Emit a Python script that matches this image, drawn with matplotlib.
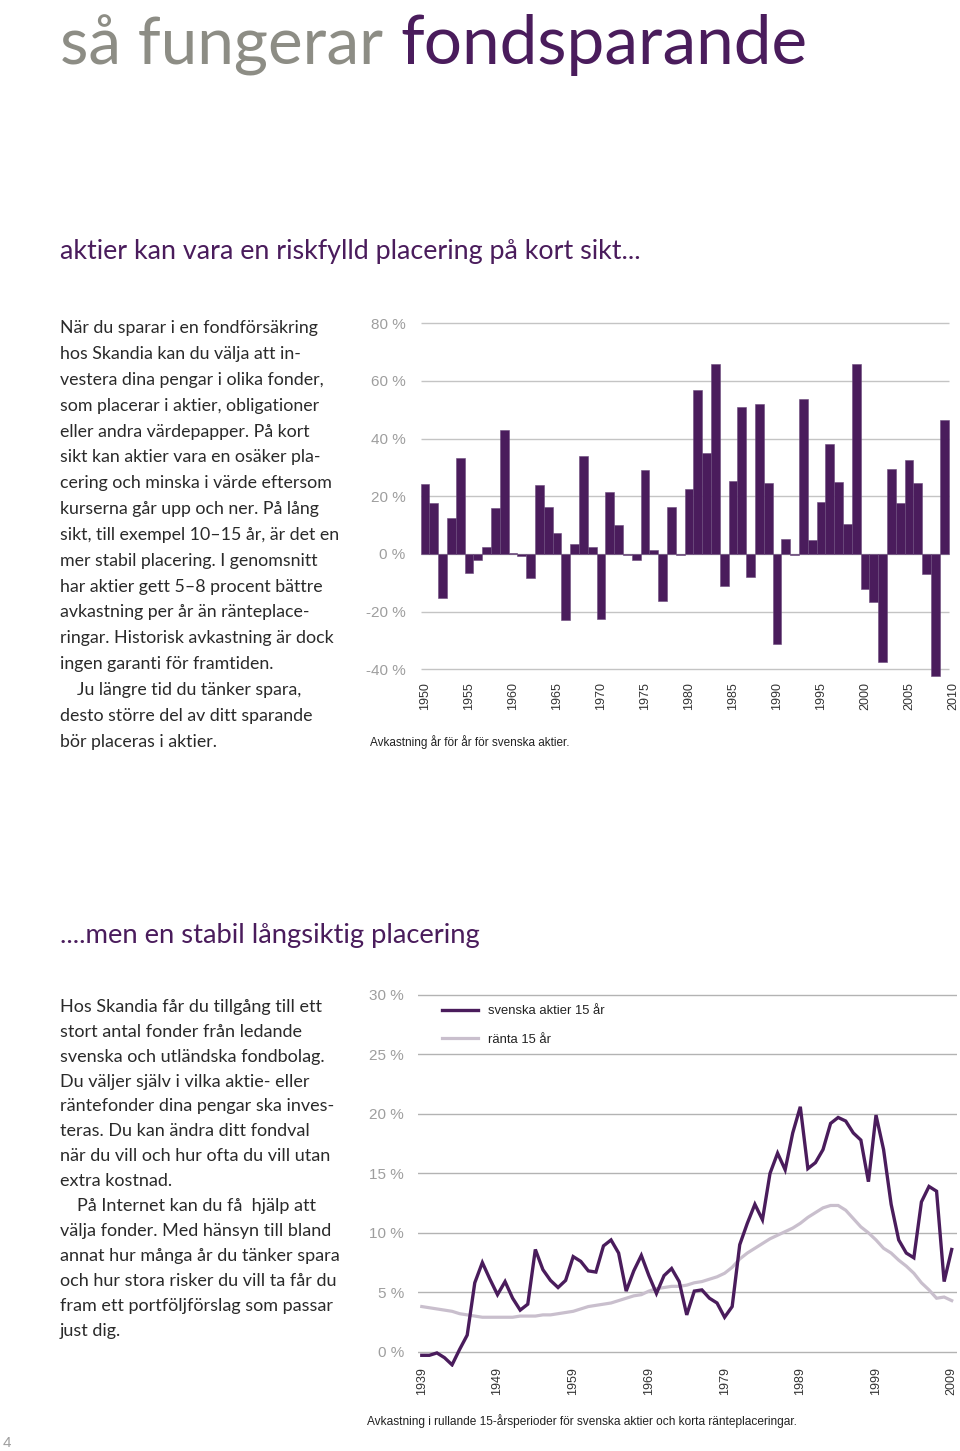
import matplotlib
matplotlib.use("Agg")
import matplotlib.pyplot as plt
from matplotlib import font_manager

# ---------------- data ----------------
bar_years = list(range(1950, 2010))
bar_returns = [24.2, 17.6, -15.4, 12.5, 33.1, -6.5, -2.0, 2.3, 15.8, 42.9,
               0.5, -0.6, -8.3, 23.8, 16.2, 7.4, -22.9, 3.6, 34.1, 2.4,
               -22.5, 21.4, 10.2, -0.2, -2.0, 29.0, 1.3, -16.3, 16.2, -0.3,
               22.5, 56.9, 34.9, 65.8, -11.1, 25.4, 51.1, -7.9, 51.9, 24.5,
               -31.1, 5.3, -0.5, 53.6, 4.7, 17.9, 38.0, 24.9, 10.5, 66.0,
               -12.3, -16.8, -37.3, 29.6, 17.5, 32.6, 24.5, -6.9, -42.2, 46.5]
bar_yticks = [-40, -20, 0, 20, 40, 60, 80]
bar_xticks = [1950, 1955, 1960, 1965, 1970, 1975, 1980, 1985, 1990, 1995, 2000, 2005, 2010]

line_years = list(range(1939, 2010))
aktier_15 = [-0.3, -0.3, -0.1, -0.5, -1.1, 0.2, 1.4, 5.8, 7.5, 6.1,
             4.8, 5.9, 4.5, 3.5, 4.0, 8.6, 6.9, 6.0, 5.4, 6.0,
             8.0, 7.6, 6.8, 6.7, 8.9, 9.4, 8.3, 5.1, 6.8, 8.1,
             6.4, 4.9, 6.4, 7.0, 5.9, 3.1, 5.1, 5.2, 4.5, 4.1,
             2.9, 3.8, 9.0, 10.8, 12.4, 11.1, 15.0, 16.7, 15.3, 18.4,
             20.6, 15.4, 15.9, 17.0, 19.2, 19.7, 19.4, 18.4, 17.8, 14.3,
             19.9, 17.0, 12.4, 9.4, 8.3, 7.9, 12.6, 13.9, 13.5, 5.9,
             8.6]
ranta_15 = [3.8, 3.7, 3.6, 3.5, 3.4, 3.2, 3.1, 3.0, 2.9, 2.9,
            2.9, 2.9, 2.9, 3.0, 3.0, 3.0, 3.1, 3.1, 3.2, 3.3,
            3.4, 3.6, 3.8, 3.9, 4.0, 4.1, 4.3, 4.5, 4.7, 4.8,
            5.1, 5.3, 5.4, 5.5, 5.5, 5.6, 5.8, 5.9, 6.1, 6.3,
            6.6, 7.1, 7.8, 8.3, 8.7, 9.1, 9.5, 9.8, 10.1, 10.4,
            10.8, 11.3, 11.7, 12.1, 12.3, 12.3, 11.9, 11.2, 10.5, 10.0,
            9.4, 8.7, 8.3, 7.7, 7.2, 6.6, 5.8, 5.2, 4.5, 4.6,
            4.3]
line_yticks = [0, 5, 10, 15, 20, 25, 30]
line_xticks = [1939, 1949, 1959, 1969, 1979, 1989, 1999, 2009]
legend_labels = ["svenska aktier 15 år", "ränta 15 år"]

title_grey = "så fungerar"
title_purple = "fondsparande"
heading1 = "aktier kan vara en riskfylld placering på kort sikt..."
heading2 = "....men en stabil långsiktig placering"
body1 = ["När du sparar i en fondförsäkring",
         "hos Skandia kan du välja att in-",
         "vestera dina pengar i olika fonder,",
         "som placerar i aktier, obligationer",
         "eller andra värdepapper. På kort",
         "sikt kan aktier vara en osäker pla-",
         "cering och minska i värde eftersom",
         "kurserna går upp och ner. På lång",
         "sikt, till exempel 10–15 år, är det en",
         "mer stabil placering. I genomsnitt",
         "har aktier gett 5–8 procent bättre",
         "avkastning per år än ränteplace-",
         "ringar. Historisk avkastning är dock",
         "ingen garanti för framtiden.",
         "Ju längre tid du tänker spara,",
         "desto större del av ditt sparande",
         "bör placeras i aktier."]
body1_indent = [14]
body2 = ["Hos Skandia får du tillgång till ett",
         "stort antal fonder från ledande",
         "svenska och utländska fondbolag.",
         "Du väljer själv i vilka aktie- eller",
         "räntefonder dina pengar ska inves-",
         "teras. Du kan ändra ditt fondval",
         "när du vill och hur ofta du vill utan",
         "extra kostnad.",
         "På Internet kan du få  hjälp att",
         "välja fonder. Med hänsyn till bland",
         "annat hur många år du tänker spara",
         "och hur stora risker du vill ta får du",
         "fram ett portföljförslag som passar",
         "just dig."]
body2_indent = [8]
caption1 = "Avkastning år för år för svenska aktier."
caption2 = "Avkastning i rullande 15-årsperioder för svenska aktier och korta ränteplaceringar."
page_no = "4"

# ---------------- style ----------------
PURPLE = "#4a1c5c"
LIGHT = "#c9bfcd"
TGREY = "#8d8d85"
AXGREY = "#9e9e9e"
GRID = "#c4c4c4"
TEXT = "#2a2a2a"


def pick(names):
    for n in names:
        try:
            font_manager.findfont(font_manager.FontProperties(family=n), fallback_to_default=False)
            return n
        except Exception:
            continue
    return "DejaVu Sans"


HEAD_FONT = pick(["Liberation Sans Narrow", "Lato", "Open Sans"])
BODY_FONT = pick(["Lato", "Open Sans", "Noto Sans"])
CHART_FONT = pick(["Liberation Sans", "DejaVu Sans"])

W, H = 960, 1451
fig = plt.figure(figsize=(W / 100, H / 100), dpi=100)
fig.patch.set_facecolor("white")
renderer = fig.canvas.get_renderer()


def fx(x):
    return x / W


def fy(y):
    return 1 - y / H


def fit_text(x, y, s, target_w, family, color, size0=20, **kw):
    t = fig.text(fx(x), fy(y), s, family=family, color=color, fontsize=size0,
                 va="baseline", ha="left", **kw)
    w = t.get_window_extent(renderer).width
    t.set_fontsize(size0 * target_w / w)
    return t


def width_of(t):
    return t.get_window_extent(renderer).width

# ---------------- titles ----------------
fit_text(60, 64, title_grey, 323, HEAD_FONT, TGREY, size0=50)
fit_text(400, 64, title_purple, 407, HEAD_FONT, PURPLE, size0=50)
fit_text(60, 259, heading1, 583, HEAD_FONT, PURPLE, size0=20)
fit_text(60, 943, heading2, 423, BODY_FONT, PURPLE, size0=20)

# ---------------- body text ----------------
probe = fig.text(0, 0, body1[0], family=BODY_FONT, fontsize=12)
b1size = 12 * 257 / width_of(probe)
probe.set_text(body2[0])
b2size = 12 * 261 / width_of(probe)
probe.remove()

for i, line in enumerate(body1):
    x = 77 if i in body1_indent else 60
    fig.text(fx(x), fy(333.3 + 25.83 * i), line, family=BODY_FONT, color=TEXT,
             fontsize=b1size, va="baseline", ha="left")
for i, line in enumerate(body2):
    x = 77 if i in body2_indent else 60
    fig.text(fx(x), fy(1011.7 + 24.95 * i), line, family=BODY_FONT, color=TEXT,
             fontsize=b2size, va="baseline", ha="left")

# ---------------- bar chart ----------------
bl, br, bt, bb = 420.6, 957.4, 317.4, 680.9
ax1 = fig.add_axes([fx(bl), fy(bb), (br - bl) / W, (bb - bt) / H])
ax1.set_xlim(1949.5, 2010.5)
ax1.set_ylim(-44, 82)
ax1.hlines(bar_yticks, 1949.5, 2009.5, color=GRID, lw=1.0, zorder=0)
ax1.bar(bar_years, bar_returns, width=1.0, color=PURPLE, edgecolor="#6b4a7c",
        linewidth=0.4, zorder=2)
for s in ax1.spines.values():
    s.set_visible(False)
ax1.set_yticks(bar_yticks)
ax1.set_yticklabels([f"{v} %" for v in bar_yticks], family=CHART_FONT,
                    fontsize=11, color=AXGREY)
ax1.set_xticks(bar_xticks)
ax1.set_xticklabels([str(v) for v in bar_xticks], rotation=90, family=CHART_FONT,
                    fontsize=9, color="#333333")
ax1.tick_params(axis="y", length=0, pad=11)
ax1.tick_params(axis="x", length=0, pad=1)
fit_text(370, 746, caption1, 202, CHART_FONT, "#222222", size0=8)

# ---------------- line chart ----------------
ll, lr, lt, lb = 418, 957, 983.1, 1367.2
ax2 = fig.add_axes([fx(ll), fy(lb), (lr - ll) / W, (lb - lt) / H])
ax2.set_xlim(1938.5, 2009.7)
ax2.set_ylim(-1.3, 31)
for v in line_yticks:
    ax2.axhline(v, color="#b3b3b3", lw=1.0, zorder=0)
l2, = ax2.plot(line_years, ranta_15, color=LIGHT, lw=2.3, zorder=2,
               solid_joinstyle="miter")
l1, = ax2.plot(line_years, aktier_15, color=PURPLE, lw=2.4, zorder=3,
               solid_joinstyle="miter")
for s in ax2.spines.values():
    s.set_visible(False)
ax2.set_yticks(line_yticks)
ax2.set_yticklabels([f"{v} %" for v in line_yticks], family=CHART_FONT,
                    fontsize=11, color=AXGREY)
ax2.set_xticks(line_xticks)
ax2.set_xticklabels([str(v) for v in line_xticks], rotation=90, family=CHART_FONT,
                    fontsize=9, color="#333333")
ax2.tick_params(axis="y", length=0, pad=10)
ax2.tick_params(axis="x", length=0, pad=0)
leg = ax2.legend([l1, l2], legend_labels, loc="upper left",
                 bbox_to_anchor=((441.7 - ll) / (lr - ll), (lb - 1005) / (lb - lt)),
                 frameon=False, borderpad=0, borderaxespad=0, handlelength=2.8,
                 handletextpad=0.75, labelspacing=1.25,
                 prop={"family": CHART_FONT, "size": 9.4})
for txt in leg.get_texts():
    txt.set_color("#222222")
fit_text(367, 1425, caption2, 435, CHART_FONT, "#222222", size0=8)

fig.text(fx(3), fy(1447), page_no, family=CHART_FONT, fontsize=11,
         color=AXGREY, va="baseline", ha="left")

fig.savefig("out.png", dpi=100, facecolor="white")
